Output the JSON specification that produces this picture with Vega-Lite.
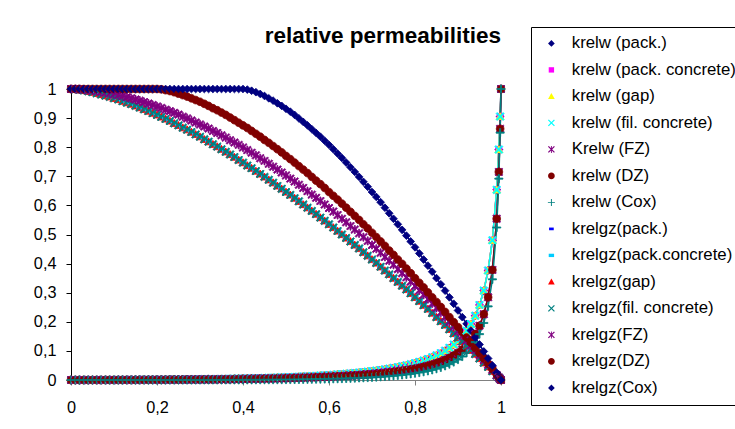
{
  "$schema": "https://vega.github.io/schema/vega-lite/v6.json",
  "width": 430,
  "height": 291,
  "autosize": {"type": "none"},
  "padding": {"left": 71, "top": 89, "right": 234, "bottom": 49},
  "background": "white",
  "title": {"text": "relative permeabilities", "anchor": "end", "frame": "group", "fontSize": 22.5, "fontWeight": "bold", "font": "Liberation Sans", "color": "black", "baseline": "alphabetic", "offset": 0, "dy": 39},
  "datasets": {
    "curves": [
      {"k": "A", "names": ["krelgz(pack.)", "krelgz(pack.concrete)", "krelgz(gap)", "krelgz(fil. concrete)"], "names2": ["krelgz(pack.)", "krelgz(pack.concrete)", "krelgz(gap)", "krelgz(fil. concrete)"]},
      {"k": "B", "names": ["krelgz(FZ)"], "names2": ["krelgz(FZ)"]},
      {"k": "C", "names": ["krelgz(DZ)"], "names2": ["krelgz(DZ)"]},
      {"k": "D", "names": ["krelgz(Cox)"], "names2": ["krelgz(Cox)"]},
      {"k": "E", "names": ["krelw (pack.)", "krelw (pack. concrete)", "krelw (gap)", "krelw (fil. concrete)"], "names2": ["krelw (pack.)", "krelw (pack. concrete)", "krelw (gap)", "krelw (fil. concrete)"]},
      {"k": "F", "names": ["Krelw (FZ)", "krelw (DZ)"], "names2": ["Krelw (FZ)", "krelw (DZ)"]},
      {"k": "G", "names": ["krelw (Cox)"], "names2": ["krelw (Cox)"]}
    ]
  },
  "data": {
    "values": [
      {"x": 0, "A": 1, "B": 1, "C": 1, "D": 1, "E": 0, "F": 0, "G": 0},
      {"x": 0.01, "A": 0.999, "B": 1, "C": 1, "D": 1, "E": 0, "F": 0, "G": 0},
      {"x": 0.02, "A": 0.997, "B": 0.999, "C": 1, "D": 1, "E": 0, "F": 0, "G": 0},
      {"x": 0.03, "A": 0.995, "B": 0.998, "C": 1, "D": 1, "E": 0, "F": 0, "G": 0},
      {"x": 0.04, "A": 0.992, "B": 0.996, "C": 1, "D": 1, "E": 0, "F": 0, "G": 0},
      {"x": 0.05, "A": 0.989, "B": 0.995, "C": 1, "D": 1, "E": 0.0001, "F": 0, "G": 0},
      {"x": 0.06, "A": 0.985, "B": 0.993, "C": 1, "D": 1, "E": 0.0001, "F": 0, "G": 0},
      {"x": 0.07, "A": 0.981, "B": 0.99, "C": 1, "D": 1, "E": 0.0001, "F": 0, "G": 0},
      {"x": 0.08, "A": 0.977, "B": 0.988, "C": 1, "D": 1, "E": 0.0001, "F": 0.0001, "G": 0},
      {"x": 0.09, "A": 0.973, "B": 0.985, "C": 1, "D": 1, "E": 0.0002, "F": 0.0001, "G": 0},
      {"x": 0.1, "A": 0.968, "B": 0.982, "C": 1, "D": 1, "E": 0.0002, "F": 0.0001, "G": 0},
      {"x": 0.11, "A": 0.964, "B": 0.979, "C": 1, "D": 1, "E": 0.0003, "F": 0.0002, "G": 0},
      {"x": 0.12, "A": 0.958, "B": 0.976, "C": 1, "D": 1, "E": 0.0003, "F": 0.0002, "G": 0},
      {"x": 0.13, "A": 0.953, "B": 0.972, "C": 1, "D": 1, "E": 0.0004, "F": 0.0002, "G": 0},
      {"x": 0.14, "A": 0.948, "B": 0.968, "C": 1, "D": 1, "E": 0.0004, "F": 0.0003, "G": 0},
      {"x": 0.15, "A": 0.942, "B": 0.964, "C": 1, "D": 1, "E": 0.0005, "F": 0.0003, "G": 0},
      {"x": 0.16, "A": 0.936, "B": 0.96, "C": 1, "D": 1, "E": 0.0006, "F": 0.0004, "G": 0},
      {"x": 0.17, "A": 0.93, "B": 0.955, "C": 1, "D": 1, "E": 0.0007, "F": 0.0004, "G": 0},
      {"x": 0.18, "A": 0.924, "B": 0.95, "C": 1, "D": 1, "E": 0.0008, "F": 0.0005, "G": 0},
      {"x": 0.19, "A": 0.917, "B": 0.945, "C": 1, "D": 1, "E": 0.0009, "F": 0.0006, "G": 0},
      {"x": 0.2, "A": 0.911, "B": 0.94, "C": 1, "D": 1, "E": 0.001, "F": 0.0006, "G": 0},
      {"x": 0.21, "A": 0.904, "B": 0.935, "C": 0.999, "D": 1, "E": 0.0011, "F": 0.0007, "G": 0},
      {"x": 0.22, "A": 0.897, "B": 0.929, "C": 0.996, "D": 1, "E": 0.0012, "F": 0.0008, "G": 0},
      {"x": 0.23, "A": 0.89, "B": 0.924, "C": 0.993, "D": 1, "E": 0.0013, "F": 0.0009, "G": 0},
      {"x": 0.24, "A": 0.882, "B": 0.918, "C": 0.989, "D": 1, "E": 0.0015, "F": 0.001, "G": 0.0001},
      {"x": 0.25, "A": 0.875, "B": 0.912, "C": 0.984, "D": 1, "E": 0.0016, "F": 0.0011, "G": 0.0001},
      {"x": 0.26, "A": 0.867, "B": 0.905, "C": 0.979, "D": 1, "E": 0.0018, "F": 0.0012, "G": 0.0001},
      {"x": 0.27, "A": 0.86, "B": 0.899, "C": 0.974, "D": 1, "E": 0.0019, "F": 0.0013, "G": 0.0001},
      {"x": 0.28, "A": 0.852, "B": 0.892, "C": 0.968, "D": 1, "E": 0.0021, "F": 0.0014, "G": 0.0001},
      {"x": 0.29, "A": 0.844, "B": 0.885, "C": 0.962, "D": 1, "E": 0.0023, "F": 0.0015, "G": 0.0001},
      {"x": 0.3, "A": 0.836, "B": 0.878, "C": 0.956, "D": 1, "E": 0.0025, "F": 0.0016, "G": 0.0001},
      {"x": 0.31, "A": 0.827, "B": 0.871, "C": 0.949, "D": 1, "E": 0.0027, "F": 0.0018, "G": 0.0002},
      {"x": 0.32, "A": 0.819, "B": 0.864, "C": 0.942, "D": 1, "E": 0.0029, "F": 0.0019, "G": 0.0002},
      {"x": 0.33, "A": 0.81, "B": 0.856, "C": 0.934, "D": 1, "E": 0.0032, "F": 0.0021, "G": 0.0002},
      {"x": 0.34, "A": 0.802, "B": 0.849, "C": 0.927, "D": 1, "E": 0.0034, "F": 0.0022, "G": 0.0002},
      {"x": 0.35, "A": 0.793, "B": 0.841, "C": 0.919, "D": 1, "E": 0.0037, "F": 0.0024, "G": 0.0003},
      {"x": 0.36, "A": 0.784, "B": 0.833, "C": 0.911, "D": 1, "E": 0.0039, "F": 0.0026, "G": 0.0003},
      {"x": 0.37, "A": 0.775, "B": 0.824, "C": 0.902, "D": 1, "E": 0.0042, "F": 0.0028, "G": 0.0004},
      {"x": 0.38, "A": 0.766, "B": 0.816, "C": 0.893, "D": 1, "E": 0.0045, "F": 0.003, "G": 0.0004},
      {"x": 0.39, "A": 0.756, "B": 0.808, "C": 0.884, "D": 1, "E": 0.0048, "F": 0.0032, "G": 0.0004},
      {"x": 0.4, "A": 0.747, "B": 0.799, "C": 0.875, "D": 1, "E": 0.0052, "F": 0.0034, "G": 0.0005},
      {"x": 0.41, "A": 0.737, "B": 0.79, "C": 0.866, "D": 0.998, "E": 0.0055, "F": 0.0036, "G": 0.0006},
      {"x": 0.42, "A": 0.728, "B": 0.781, "C": 0.856, "D": 0.994, "E": 0.0059, "F": 0.0039, "G": 0.0006},
      {"x": 0.43, "A": 0.718, "B": 0.772, "C": 0.846, "D": 0.989, "E": 0.0063, "F": 0.0041, "G": 0.0007},
      {"x": 0.44, "A": 0.708, "B": 0.762, "C": 0.836, "D": 0.983, "E": 0.0067, "F": 0.0044, "G": 0.0008},
      {"x": 0.45, "A": 0.698, "B": 0.753, "C": 0.825, "D": 0.976, "E": 0.0071, "F": 0.0047, "G": 0.0009},
      {"x": 0.46, "A": 0.688, "B": 0.743, "C": 0.815, "D": 0.968, "E": 0.0076, "F": 0.005, "G": 0.001},
      {"x": 0.47, "A": 0.678, "B": 0.733, "C": 0.804, "D": 0.96, "E": 0.008, "F": 0.0053, "G": 0.0011},
      {"x": 0.48, "A": 0.667, "B": 0.723, "C": 0.793, "D": 0.951, "E": 0.0085, "F": 0.0056, "G": 0.0012},
      {"x": 0.49, "A": 0.657, "B": 0.713, "C": 0.782, "D": 0.942, "E": 0.0091, "F": 0.006, "G": 0.0013},
      {"x": 0.5, "A": 0.646, "B": 0.703, "C": 0.77, "D": 0.932, "E": 0.0096, "F": 0.0063, "G": 0.0015},
      {"x": 0.51, "A": 0.636, "B": 0.692, "C": 0.759, "D": 0.922, "E": 0.0102, "F": 0.0067, "G": 0.0016},
      {"x": 0.52, "A": 0.625, "B": 0.682, "C": 0.747, "D": 0.911, "E": 0.0108, "F": 0.0071, "G": 0.0018},
      {"x": 0.53, "A": 0.614, "B": 0.671, "C": 0.735, "D": 0.899, "E": 0.0115, "F": 0.0076, "G": 0.002},
      {"x": 0.54, "A": 0.603, "B": 0.66, "C": 0.723, "D": 0.887, "E": 0.0122, "F": 0.008, "G": 0.0022},
      {"x": 0.55, "A": 0.592, "B": 0.649, "C": 0.711, "D": 0.875, "E": 0.0129, "F": 0.0085, "G": 0.0024},
      {"x": 0.56, "A": 0.581, "B": 0.637, "C": 0.698, "D": 0.862, "E": 0.0136, "F": 0.009, "G": 0.0026},
      {"x": 0.57, "A": 0.57, "B": 0.626, "C": 0.685, "D": 0.849, "E": 0.0144, "F": 0.0095, "G": 0.0029},
      {"x": 0.58, "A": 0.558, "B": 0.615, "C": 0.673, "D": 0.836, "E": 0.0153, "F": 0.0101, "G": 0.0031},
      {"x": 0.59, "A": 0.547, "B": 0.603, "C": 0.66, "D": 0.822, "E": 0.0162, "F": 0.0107, "G": 0.0034},
      {"x": 0.6, "A": 0.535, "B": 0.591, "C": 0.646, "D": 0.808, "E": 0.0171, "F": 0.0113, "G": 0.0038},
      {"x": 0.61, "A": 0.524, "B": 0.579, "C": 0.633, "D": 0.793, "E": 0.0182, "F": 0.012, "G": 0.0041},
      {"x": 0.62, "A": 0.512, "B": 0.567, "C": 0.62, "D": 0.778, "E": 0.0192, "F": 0.0127, "G": 0.0045},
      {"x": 0.63, "A": 0.5, "B": 0.554, "C": 0.606, "D": 0.763, "E": 0.0204, "F": 0.0135, "G": 0.0049},
      {"x": 0.64, "A": 0.488, "B": 0.542, "C": 0.592, "D": 0.747, "E": 0.0216, "F": 0.0143, "G": 0.0054},
      {"x": 0.65, "A": 0.476, "B": 0.529, "C": 0.578, "D": 0.731, "E": 0.0228, "F": 0.0151, "G": 0.0059},
      {"x": 0.66, "A": 0.464, "B": 0.517, "C": 0.564, "D": 0.715, "E": 0.0242, "F": 0.016, "G": 0.0065},
      {"x": 0.67, "A": 0.452, "B": 0.504, "C": 0.55, "D": 0.698, "E": 0.0257, "F": 0.017, "G": 0.0071},
      {"x": 0.68, "A": 0.439, "B": 0.491, "C": 0.535, "D": 0.681, "E": 0.0272, "F": 0.0181, "G": 0.0077},
      {"x": 0.69, "A": 0.427, "B": 0.478, "C": 0.521, "D": 0.664, "E": 0.0289, "F": 0.0192, "G": 0.0084},
      {"x": 0.7, "A": 0.414, "B": 0.464, "C": 0.506, "D": 0.646, "E": 0.0306, "F": 0.0204, "G": 0.0092},
      {"x": 0.71, "A": 0.402, "B": 0.451, "C": 0.491, "D": 0.629, "E": 0.0325, "F": 0.0216, "G": 0.0101},
      {"x": 0.72, "A": 0.389, "B": 0.437, "C": 0.476, "D": 0.611, "E": 0.0346, "F": 0.023, "G": 0.011},
      {"x": 0.73, "A": 0.376, "B": 0.423, "C": 0.461, "D": 0.592, "E": 0.0368, "F": 0.0245, "G": 0.0121},
      {"x": 0.74, "A": 0.363, "B": 0.41, "C": 0.445, "D": 0.573, "E": 0.0391, "F": 0.0261, "G": 0.0132},
      {"x": 0.75, "A": 0.35, "B": 0.396, "C": 0.43, "D": 0.554, "E": 0.0417, "F": 0.0278, "G": 0.0145},
      {"x": 0.76, "A": 0.337, "B": 0.381, "C": 0.414, "D": 0.535, "E": 0.0444, "F": 0.0297, "G": 0.0159},
      {"x": 0.77, "A": 0.324, "B": 0.367, "C": 0.399, "D": 0.516, "E": 0.0474, "F": 0.0317, "G": 0.0174},
      {"x": 0.78, "A": 0.311, "B": 0.353, "C": 0.383, "D": 0.496, "E": 0.0507, "F": 0.034, "G": 0.0191},
      {"x": 0.79, "A": 0.298, "B": 0.338, "C": 0.367, "D": 0.476, "E": 0.0543, "F": 0.0364, "G": 0.0211},
      {"x": 0.8, "A": 0.284, "B": 0.323, "C": 0.35, "D": 0.456, "E": 0.0582, "F": 0.0391, "G": 0.0232},
      {"x": 0.81, "A": 0.271, "B": 0.308, "C": 0.334, "D": 0.435, "E": 0.0625, "F": 0.042, "G": 0.0256},
      {"x": 0.82, "A": 0.257, "B": 0.293, "C": 0.318, "D": 0.414, "E": 0.0672, "F": 0.0453, "G": 0.0283},
      {"x": 0.83, "A": 0.244, "B": 0.278, "C": 0.301, "D": 0.393, "E": 0.0725, "F": 0.0489, "G": 0.0313},
      {"x": 0.84, "A": 0.23, "B": 0.263, "C": 0.284, "D": 0.372, "E": 0.0784, "F": 0.053, "G": 0.0347},
      {"x": 0.85, "A": 0.216, "B": 0.248, "C": 0.268, "D": 0.35, "E": 0.085, "F": 0.0576, "G": 0.0387},
      {"x": 0.86, "A": 0.202, "B": 0.232, "C": 0.251, "D": 0.329, "E": 0.0925, "F": 0.0628, "G": 0.0432},
      {"x": 0.87, "A": 0.189, "B": 0.216, "C": 0.234, "D": 0.307, "E": 0.1009, "F": 0.0688, "G": 0.0484},
      {"x": 0.88, "A": 0.174, "B": 0.2, "C": 0.216, "D": 0.284, "E": 0.1106, "F": 0.0757, "G": 0.0545},
      {"x": 0.89, "A": 0.16, "B": 0.184, "C": 0.199, "D": 0.262, "E": 0.1219, "F": 0.0837, "G": 0.0617},
      {"x": 0.9, "A": 0.146, "B": 0.168, "C": 0.182, "D": 0.239, "E": 0.135, "F": 0.0932, "G": 0.0703},
      {"x": 0.91, "A": 0.132, "B": 0.152, "C": 0.164, "D": 0.216, "E": 0.1506, "F": 0.1045, "G": 0.0807},
      {"x": 0.92, "A": 0.118, "B": 0.136, "C": 0.146, "D": 0.193, "E": 0.1693, "F": 0.1183, "G": 0.0934},
      {"x": 0.93, "A": 0.103, "B": 0.119, "C": 0.128, "D": 0.17, "E": 0.1922, "F": 0.1355, "G": 0.1095},
      {"x": 0.94, "A": 0.089, "B": 0.103, "C": 0.11, "D": 0.146, "E": 0.2209, "F": 0.1574, "G": 0.1301},
      {"x": 0.95, "A": 0.074, "B": 0.086, "C": 0.092, "D": 0.122, "E": 0.2579, "F": 0.1862, "G": 0.1576},
      {"x": 0.96, "A": 0.059, "B": 0.069, "C": 0.074, "D": 0.098, "E": 0.3072, "F": 0.2261, "G": 0.196},
      {"x": 0.97, "A": 0.045, "B": 0.052, "C": 0.056, "D": 0.074, "E": 0.3764, "F": 0.2845, "G": 0.2529},
      {"x": 0.98, "A": 0.03, "B": 0.035, "C": 0.037, "D": 0.05, "E": 0.4802, "F": 0.3783, "G": 0.3459},
      {"x": 0.99, "A": 0.015, "B": 0.017, "C": 0.019, "D": 0.025, "E": 0.6534, "F": 0.554, "G": 0.524},
      {"x": 0.995, "A": 0.008, "B": 0.009, "C": 0.009, "D": 0.012, "E": 0.792, "F": 0.715, "G": 0.692},
      {"x": 0.998, "A": 0.003, "B": 0.003, "C": 0.004, "D": 0.005, "E": 0.9055, "F": 0.863, "G": 0.85},
      {"x": 1, "A": 0, "B": 0, "C": 0, "D": 0, "E": 1, "F": 1, "G": 1}
    ]
  },
  "transform": [
    {"fold": ["E", "F", "G", "A", "B", "C", "D"], "as": ["k", "y"]},
    {"lookup": "k", "from": {"data": {"name": "curves"}, "key": "k", "fields": ["names", "names2"]}},
    {"flatten": ["names", "names2"], "as": ["series", "sname"]}
  ],
  "encoding": {
    "x": {"field": "x", "type": "quantitative", "scale": {"domain": [0, 1], "nice": false, "zero": false},
      "axis": {"values": [0, 0.2, 0.4, 0.6, 0.8, 1], "format": "~g", "labelExpr": "replace(datum.label, '.', ',')", "domainColor": "#808080", "tickColor": "#808080", "tickSize": 5, "labelPadding": 14, "title": null, "grid": false, "labelFlush": false}},
    "y": {"field": "y", "type": "quantitative", "scale": {"domain": [0, 1], "nice": false, "zero": false},
      "axis": {"values": [0, 0.1, 0.2, 0.3, 0.4, 0.5, 0.6, 0.7, 0.8, 0.9, 1], "format": "~g", "labelExpr": "replace(datum.label, '.', ',')", "domainColor": "black", "tickColor": "black", "tickSize": 5, "labelPadding": 10, "title": null, "grid": false, "labelFlush": false}}
  },
  "layer": [
    {
      "mark": {"type": "line", "strokeWidth": 1.5, "clip": false},
      "encoding": {
        "stroke": {"field": "sname", "type": "nominal", "legend": null,
          "scale": {
            "domain": ["krelgz(Cox)", "krelgz(DZ)", "krelgz(FZ)", "krelgz(fil. concrete)", "krelgz(gap)", "krelgz(pack.concrete)", "krelgz(pack.)", "krelw (Cox)", "krelw (DZ)", "Krelw (FZ)", "krelw (fil. concrete)", "krelw (gap)", "krelw (pack. concrete)", "krelw (pack.)"],
            "range": ["#000080", "#800000", "#800080", "#008080", "#FF0000", "#00CCFF", "#0000FF", "#008080", "#800000", "#800080", "#00FFFF", "#FFFF00", "#FF00FF", "#000080"]
          }},
        "detail": {"field": "sname", "type": "nominal"}
      }
    },
    {
      "mark": {"type": "point", "filled": true, "size": 60, "strokeWidth": 0.8, "opacity": 1, "clip": false},
      "encoding": {
        "stroke": {"field": "sname", "type": "nominal", "legend": null},
        "color": {"field": "series", "type": "nominal",
          "scale": {
            "domain": ["krelw (pack.)", "krelw (pack. concrete)", "krelw (gap)", "krelw (fil. concrete)", "Krelw (FZ)", "krelw (DZ)", "krelw (Cox)", "krelgz(pack.)", "krelgz(pack.concrete)", "krelgz(gap)", "krelgz(fil. concrete)", "krelgz(FZ)", "krelgz(DZ)", "krelgz(Cox)"],
            "range": ["#000080", "#FF00FF", "#FFFF00", "#00FFFF", "#800080", "#800000", "#008080", "#0000FF", "#00CCFF", "#FF0000", "#008080", "#800080", "#800000", "#000080"]
          },
          "legend": {
            "title": null, "orient": "none", "legendX": 460, "legendY": -62,
            "strokeColor": "black", "fillColor": "white", "padding": 8,
            "labelFontSize": 16.8, "labelFont": "Liberation Sans", "labelColor": "black", "labelLimit": 400,
            "symbolSize": 45, "symbolOffset": 4, "labelOffset": 12, "rowPadding": 8.5, "symbolStrokeWidth": 0.8
          }},
        "shape": {"field": "series", "type": "nominal",
          "legend": {"title": null, "orient": "none", "legendX": 460, "legendY": -62},
          "scale": {
            "domain": ["krelw (pack.)", "krelw (pack. concrete)", "krelw (gap)", "krelw (fil. concrete)", "Krelw (FZ)", "krelw (DZ)", "krelw (Cox)", "krelgz(pack.)", "krelgz(pack.concrete)", "krelgz(gap)", "krelgz(fil. concrete)", "krelgz(FZ)", "krelgz(DZ)", "krelgz(Cox)"],
            "range": [
              "M0,-1L1,0L0,1L-1,0Z",
              "M-0.8,-0.8H0.8V0.8H-0.8Z",
              "M0,-1L1,0.8H-1Z",
              "M-0.77,-1.03L1.03,0.77L0.77,1.03L-1.03,-0.77Z M-1.03,0.77L0.77,-1.03L1.03,-0.77L-0.77,1.03Z",
              "M-0.77,-1.03L1.03,0.77L0.77,1.03L-1.03,-0.77Z M-1.03,0.77L0.77,-1.03L1.03,-0.77L-0.77,1.03Z M-0.13,-1.05H0.13V1.05H-0.13Z",
              "M-1,0A1,1 0 1,0 1,0A1,1 0 1,0 -1,0Z",
              "M-1.05,-0.14H1.05V0.14H-1.05Z M-0.14,-1.05H0.14V1.05H-0.14Z",
              "M-0.7,-0.4H0.7V0.4H-0.7Z",
              "M-0.8,-0.5H0.8V0.5H-0.8Z",
              "M0,-1L1,0.8H-1Z",
              "M-0.77,-1.03L1.03,0.77L0.77,1.03L-1.03,-0.77Z M-1.03,0.77L0.77,-1.03L1.03,-0.77L-0.77,1.03Z",
              "M-0.77,-1.03L1.03,0.77L0.77,1.03L-1.03,-0.77Z M-1.03,0.77L0.77,-1.03L1.03,-0.77L-0.77,1.03Z M-0.13,-1.05H0.13V1.05H-0.13Z",
              "M-1,0A1,1 0 1,0 1,0A1,1 0 1,0 -1,0Z",
              "M0,-1L1,0L0,1L-1,0Z"
            ]
          }}
      }
    }
  ],
  "config": {
    "view": {"stroke": null},
    "font": "Liberation Sans",
    "axis": {"labelFont": "Liberation Sans", "labelFontSize": 16.3, "labelColor": "black", "domainWidth": 1, "tickWidth": 1}
  }
}
